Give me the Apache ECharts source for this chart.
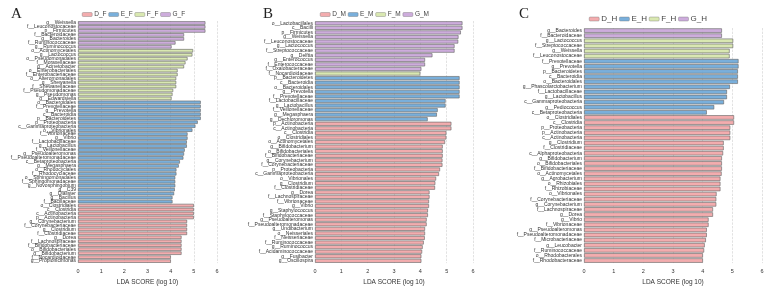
<!DOCTYPE html>
<html lang="en">
<head>
  <meta charset="UTF-8">
  <title>LDA</title>
  <script src="https://cdn.jsdelivr.net/npm/echarts@6/dist/echarts.min.js"></script>
  <style>
    body { margin: 0; background: #fff; }
    #main { width: 767px; height: 291px; }
  </style>
</head>
<body>
  <div id="main"></div>
  <script>
    // ---- panel A (_F) ----
    var aG = ['g__Weissella', 'f__Leuconostocaceae', 'p__Firmicutes', 'f__Bacteroidaceae', 'g__Bacteroides', 'f__Ruminococcaceae', 'g__Ruminococcus'];
    var aGv = [5.5, 5.5, 5.5, 4.58, 4.58, 4.21, 4.04];
    var aF = ['o__Actinomycetales', 'g__Lactococcus', 'o__Pseudomonadales', 'f__Moraxellaceae', 'g__Acinetobacter', 'o__Enterobacteriales', 'f__Enterobacteriaceae', 'o__Alteromonadales', 'g__Shewanella', 'f__Shewanellaceae', 'f__Pseudomonadaceae', 'g__Pseudomonas', 'g__Edwardsiella'];
    var aFv = [4.97, 4.94, 4.73, 4.64, 4.58, 4.3, 4.3, 4.24, 4.24, 4.24, 4.11, 4.08, 4.04];
    var aE = ['o__Bacteroidales', 'f__Prevotellaceae', 'g__Prevotella', 'c__Bacteroidia', 'p__Bacteroidetes', 'p__Proteobacteria', 'c__Gammaproteobacteria', 'o__Vibrionales', 'f__Vibrionaceae', 'g__Vibrio', 'f__Lactobacillaceae', 'g__Lactobacillus', 'f__Veillonellaceae', 'g__Pseudoalteromonas', 'f__Pseudoalteromonadaceae', 'c__Betaproteobacteria', 'g__Megasphaera', 'o__Rhodocyclales', 'f__Rhodocyclaceae', 'o__Sphingomonadales', 'f__Sphingomonadaceae', 'g__Novosphingobium', 'g__C39', 'g__Dialister', 'g__Bacillus', 'f__Bacillaceae'];
    var aEv = [5.3, 5.3, 5.3, 5.3, 5.3, 5.17, 5.07, 4.94, 4.73, 4.73, 4.7, 4.7, 4.61, 4.58, 4.55, 4.4, 4.35, 4.25, 4.25, 4.2, 4.2, 4.2, 4.18, 4.15, 4.08, 4.08];
    var aD = ['o__Clostridiales', 'c__Clostridia', 'c__Actinobacteria', 'p__Actinobacteria', 'g__Corynebacterium', 'f__Corynebacteriaceae', 'g__Clostridium', 'f__Clostridiaceae', 'g__Dorea', 'f__Lachnospiraceae', 'f__Bifidobacteriaceae', 'o__Bifidobacteriales', 'g__Bifidobacterium', 'f__Nocardioidaceae', 'g__Propionicimonas'];
    var aDv = [5.0, 5.0, 5.0, 5.0, 4.71, 4.71, 4.71, 4.71, 4.47, 4.47, 4.47, 4.47, 4.47, 4.01, 4.01];

    // ---- panel B (_M) ----
    var bG = ['o__Lactobacillales', 'c__Bacilli', 'p__Firmicutes', 'g__Weissella', 'f__Leuconostocaceae', 'g__Lactococcus', 'f__Streptococcaceae', 'g__Delftia', 'g__Enterococcus', 'f__Enterococcaceae', 'f__Oxalobacteraceae'];
    var bGv = [5.6, 5.6, 5.54, 5.45, 5.44, 5.3, 5.3, 4.46, 4.18, 4.18, 4.04];
    var bF = ['f__Nocardioidaceae'];
    var bFv = [4.0];
    var bE = ['p__Bacteroidetes', 'c__Bacteroidia', 'o__Bacteroidales', 'g__Prevotella', 'f__Prevotellaceae', 'f__Lactobacillaceae', 'g__Lactobacillus', 'f__Veillonellaceae', 'g__Megasphaera', 'g__Dechloromonas'];
    var bEv = [5.49, 5.49, 5.49, 5.49, 5.49, 4.96, 4.96, 4.66, 4.63, 4.28];
    var bD = ['p__Actinobacteria', 'c__Actinobacteria', 'c__Clostridia', 'o__Clostridiales', 'o__Actinomycetales', 'g__Bifidobacterium', 'o__Bifidobacteriales', 'f__Bifidobacteriaceae', 'g__Corynebacterium', 'f__Corynebacteriaceae', 'p__Proteobacteria', 'c__Gammaproteobacteria', 'o__Vibrionales', 'g__Clostridium', 'f__Clostridiaceae', 'g__Dorea', 'f__Lachnospiraceae', 'f__Vibrionaceae', 'g__Vibrio', 'g__Staphylococcus', 'f__Staphylococcaceae', 'g__Pseudoalteromonas', 'f__Pseudoalteromonadaceae', 'g__Undibacterium', 'o__Neisseriales', 'f__Neisseriaceae', 'f__Ruminococcaceae', 'g__Ruminococcus', 'f__Acidaminococcaceae', 'g__Fusibacter', 'g__Oscillospira'];
    var bDv = [5.18, 5.18, 4.99, 4.99, 4.94, 4.85, 4.85, 4.85, 4.84, 4.84, 4.75, 4.71, 4.6, 4.57, 4.56, 4.35, 4.35, 4.33, 4.33, 4.29, 4.29, 4.24, 4.24, 4.18, 4.18, 4.17, 4.13, 4.09, 4.07, 4.04, 4.04];

    // ---- panel C (_H) ----
    var cG = ['g__Bacteroides', 'f__Bacteroidaceae'];
    var cGv = [4.65, 4.65];
    var cF = ['g__Lactococcus', 'f__Streptococcaceae', 'g__Weissella', 'f__Leuconostocaceae'];
    var cFv = [5.03, 5.03, 4.91, 4.91];
    var cE = ['f__Prevotellaceae', 'g__Prevotella', 'p__Bacteroidetes', 'c__Bacteroidia', 'o__Bacteroidales', 'g__Phascolarctobacterium', 'f__Lactobacillaceae', 'g__Lactobacillus', 'c__Gammaproteobacteria', 'g__Pediococcus', 'c__Betaproteobacteria'];
    var cEv = [5.21, 5.21, 5.19, 5.19, 5.19, 4.92, 4.82, 4.82, 4.72, 4.39, 4.14];
    var cD = ['o__Clostridiales', 'c__Clostridia', 'p__Proteobacteria', 'p__Actinobacteria', 'c__Actinobacteria', 'g__Clostridium', 'f__Clostridiaceae', 'c__Alphaproteobacteria', 'g__Bifidobacterium', 'o__Bifidobacteriales', 'f__Bifidobacteriaceae', 'o__Actinomycetales', 'g__Agrobacterium', 'o__Rhizobiales', 'f__Rhizobiaceae', 'o__Vibrionales', 'f__Corynebacteriaceae', 'g__Corynebacterium', 'f__Lachnospiraceae', 'g__Dorea', 'g__Vibrio', 'f__Vibrionaceae', 'g__Pseudoalteromonas', 'f__Pseudoalteromonadaceae', 'f__Microbacteriaceae', 'g__Leucobacter', 'f__Ruminococcaceae', 'o__Rhodobacterales', 'f__Rhodobacteraceae'];
    var cDv = [5.06, 5.06, 4.93, 4.93, 4.93, 4.71, 4.71, 4.69, 4.65, 4.65, 4.65, 4.64, 4.6, 4.6, 4.6, 4.47, 4.46, 4.46, 4.35, 4.35, 4.2, 4.2, 4.14, 4.14, 4.11, 4.07, 4.05, 4.01, 4.01];

    var ticks = [0, 1, 2, 3, 4, 5, 6];
    var colors = { D: '#f2a5a7', E: '#6ea8d8', F: '#d6e6aa', G: '#c9a5d9' };

    // 每个面板的位置
    var panels = [
      { suffix: 'F', groups: { G: [aG, aGv], F: [aF, aFv], E: [aE, aEv], D: [aD, aDv] },
        grid: { left: 78, top: 21, width: 139, height: 251 }, legend: { left: 77, top: 6 }, fs: 6.5, gap: [5, 13] },
      { suffix: 'M', groups: { G: [bG, bGv], F: [bF, bFv], E: [bE, bEv], D: [bD, bDv] },
        grid: { left: 315, top: 21, width: 158, height: 245 }, legend: { left: 315, top: 6 }, fs: 6.5, gap: [5, 13] },
      { suffix: 'H', groups: { G: [cG, cGv], F: [cF, cFv], E: [cE, cEv], D: [cD, cDv] },
        grid: { left: 584, top: 28, width: 178, height: 240 }, legend: { left: 584, top: 10 }, fs: 8, gap: [5, 13] }
    ];

    var myChart = echarts.init(document.getElementById('main'));
    var option = {
      animation: false,
      textStyle: { fontFamily: 'Liberation Sans, Arial, sans-serif' },
      title: [
        { text: 'A', left: 6, top: 2, textStyle: { fontFamily: 'Liberation Serif', fontSize: 15, fontWeight: 'normal', color: '#222' } },
        { text: 'B', left: 258, top: 2, textStyle: { fontFamily: 'Liberation Serif', fontSize: 15, fontWeight: 'normal', color: '#222' } },
        { text: 'C', left: 514, top: 2, textStyle: { fontFamily: 'Liberation Serif', fontSize: 15, fontWeight: 'normal', color: '#222' } }
      ],
      legend: [], grid: [], xAxis: [], yAxis: [], series: []
    };

    panels.forEach(function (p, i) {
      var order = ['G', 'F', 'E', 'D'];
      var cats = [];
      order.forEach(function (k) { cats = cats.concat(p.groups[k][0]); });
      option.grid.push(p.grid);
      option.xAxis.push({
        type: 'value', gridIndex: i, min: ticks[0], max: ticks[ticks.length - 1], interval: 1,
        name: 'LDA SCORE (log 10)', nameLocation: 'middle', nameGap: p.gap[1],
        nameTextStyle: { fontSize: 6.5, color: '#333' },
        axisLine: { show: false }, axisTick: { show: false },
        axisLabel: { fontSize: 5.5, color: '#333', margin: p.gap[0] },
        splitLine: { show: true, lineStyle: { type: 'dashed', color: '#cfcfcf', width: 0.6 } }
      });
      option.yAxis.push({
        type: 'category', gridIndex: i, data: cats, inverse: true,
        axisLine: { show: false }, axisTick: { show: false },
        axisLabel: { interval: 0, fontSize: 5, color: '#333', margin: 2 }
      });
      var names = [];
      ['D', 'E', 'F', 'G'].forEach(function (k) {
        var nm = k + '_' + p.suffix;
        names.push(nm);
        var lab = p.groups[k][0], val = p.groups[k][1];
        var data = cats.map(function (c) {
          var idx = lab.indexOf(c);
          return idx >= 0 ? val[idx] : '-';
        });
        option.series.push({
          name: nm, type: 'bar', xAxisIndex: i, yAxisIndex: i, stack: 'p' + i,
          data: data, barCategoryGap: '12%',
          itemStyle: { color: colors[k], borderColor: '#6a6a6a', borderWidth: 0.7, opacity: 0.92 }
        });
      });
      option.legend.push({
        data: names, left: p.legend.left, top: p.legend.top,
        itemWidth: 10, itemHeight: 4, itemGap: 2,
        icon: 'roundRect',
        itemStyle: { borderWidth: 0.4 },
        textStyle: { fontSize: p.fs, color: '#444', padding: [0, 0, 0, -3] }
      });
    });

    myChart.setOption(option);
  </script>
</body>
</html>
